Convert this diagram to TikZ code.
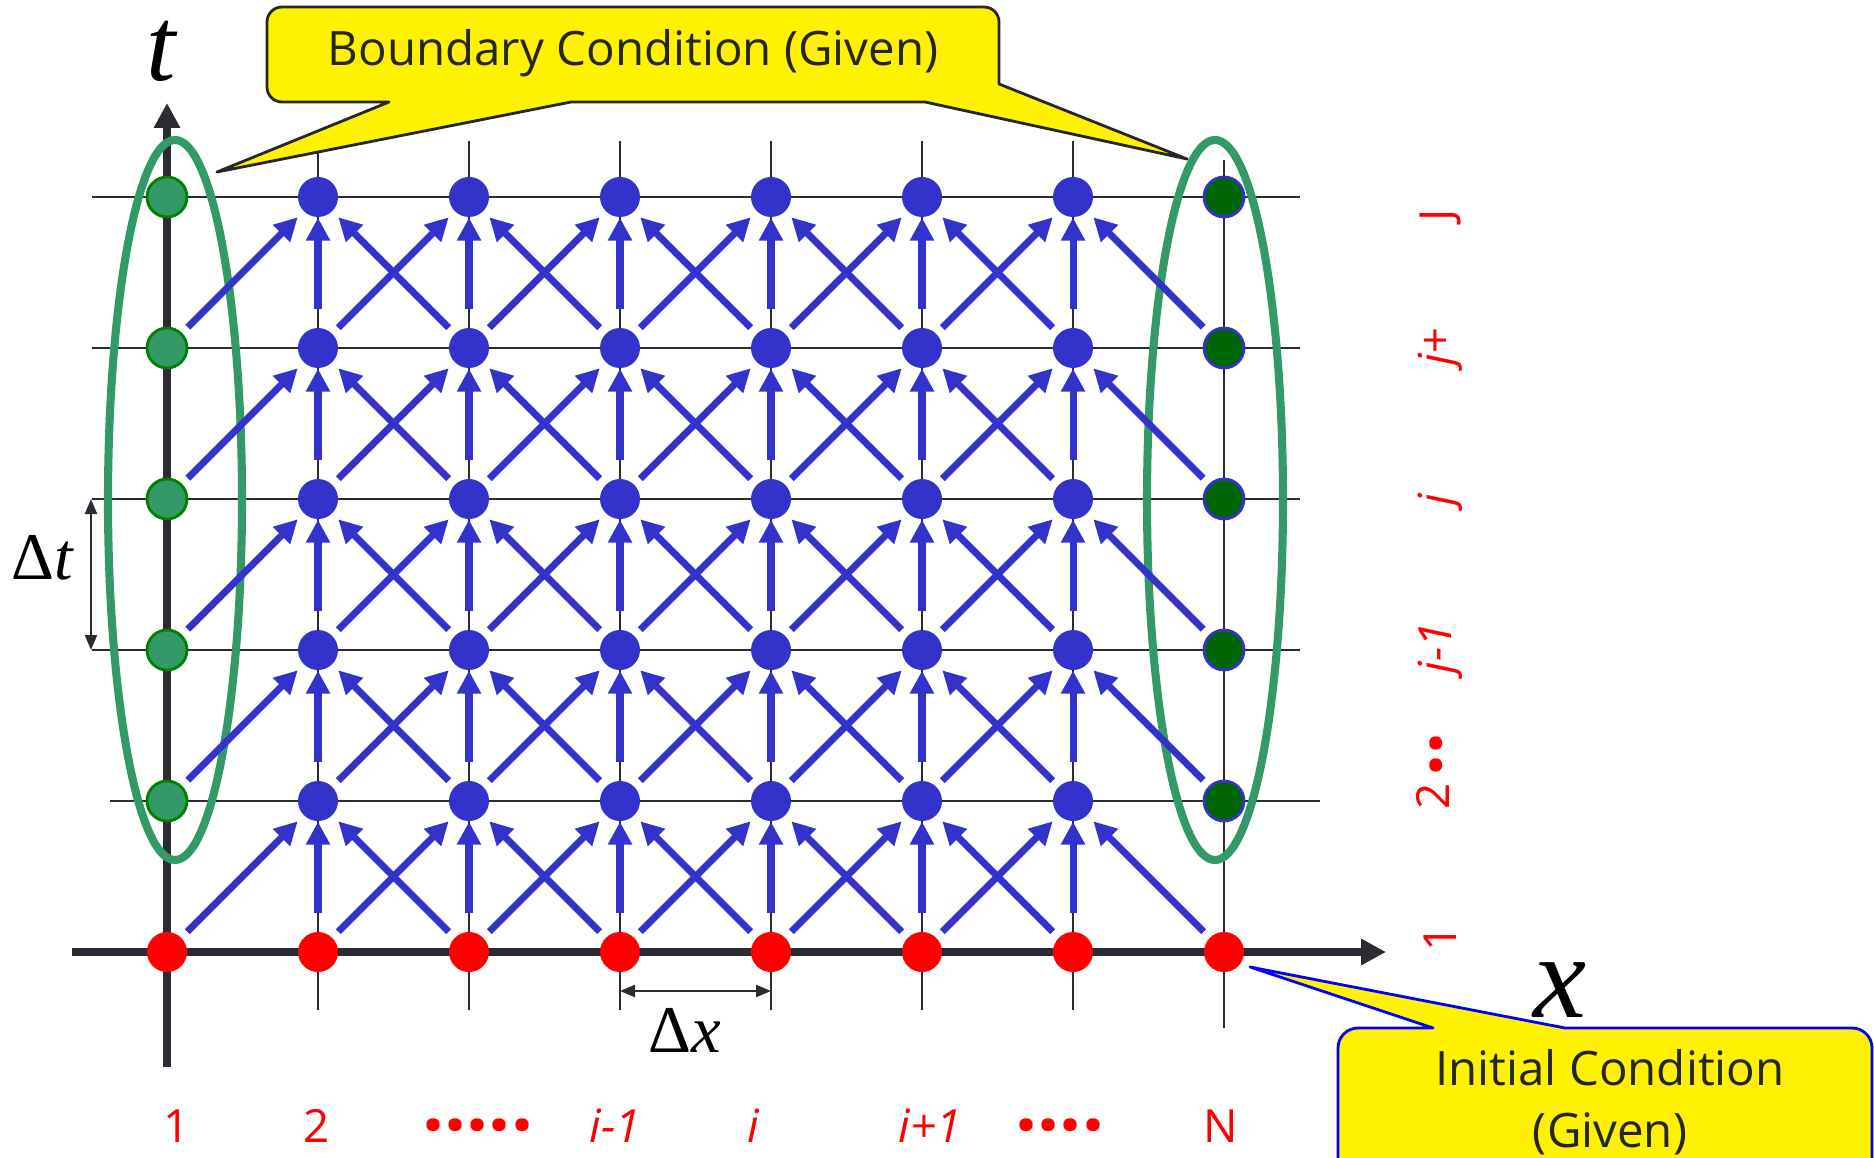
\documentclass[tikz,border=0pt]{standalone}
\usepackage{fontspec}
\setmainfont{Open Sans}
\newfontfamily\tnr{Liberation Serif}
\usetikzlibrary{arrows.meta, calc}
\definecolor{nodeblue}{HTML}{3333CC}
\definecolor{bgreen}{HTML}{339966}
\definecolor{dgreen}{HTML}{006600}
\definecolor{axisgray}{HTML}{2B2B33}
\newcommand{\bigdots}[1]{\raisebox{-4pt}{\fontsize{22}{22}\selectfont\bfseries #1}}

\begin{document}
\begin{tikzpicture}[
  font=\fontsize{13}{17}\selectfont,
  grd/.style={draw=axisgray, line width=0.6pt},
  ax/.style={draw=axisgray, line width=2.3pt, -{Triangle[length=0.25cm, width=0.25cm]}},
  dim/.style={draw=axisgray, line width=0.6pt,
              {Triangle[length=0.15cm, width=0.12cm]}-{Triangle[length=0.15cm, width=0.12cm]}},
  pt/.style={circle, inner sep=0pt, minimum size=0.4cm},
  bdot/.style={pt, fill=nodeblue},
  rdot/.style={pt, fill=red},
  lgdot/.style={pt, fill=bgreen, draw=green!50!black, line width=0.8pt},
  rgdot/.style={pt, fill=dgreen, draw=nodeblue, line width=0.8pt},
  bnd/.style={draw=bgreen, line width=2.3pt},
  upd/.style={nodeblue, line width=2pt, -{Triangle[length=0.23cm, width=0.23cm]}},
  bub/.style={fill=yellow, line width=0.8pt, line join=round},
  btxt/.style={text=black!85, font=\fontsize{13.5}{17.5}\selectfont},
  lab/.style={text=red, inner sep=0pt},
  big/.style={inner sep=0pt, font=\tnr\itshape\fontsize{#1}{#1}\selectfont}
]
\path[use as bounding box] (0,0) rectangle (18.74,11.57);
\clip (0,0) rectangle (18.74,11.57);

% grid
\foreach \c in {2,...,7}
  \draw[grd] ({0.16+1.51*\c},1.47) -- ({0.16+1.51*\c},10.16);
\draw[grd] (12.24,1.29) -- (12.24,9.97);
\foreach \r in {3,...,6}
  \draw[grd] (0.92,{0.54+1.51*\r}) -- (13.00,{0.54+1.51*\r});
\draw[grd] (1.10,3.56) -- (13.20,3.56);

% axes
\draw[ax] (1.67,0.90) -- (1.67,10.54);
\draw[ax] (0.72,2.05) -- (13.86,2.05);

% mesh points
\foreach \c in {1,...,8}
  \node[rdot] (n-\c-1) at ({0.16+1.51*\c},2.05) {};
\foreach \r in {2,...,6} {
  \node[lgdot] (n-1-\r) at (1.67,{0.54+1.51*\r}) {};
  \node[rgdot] (n-8-\r) at (12.24,{0.54+1.51*\r}) {};
  \foreach \c in {2,...,7}
    \node[bdot] (n-\c-\r) at ({0.16+1.51*\c},{0.54+1.51*\r}) {};
}

% boundary columns
\draw[bnd] (1.75,6.57) ellipse[x radius=0.67, y radius=3.60];
\draw[bnd] (12.15,6.57) ellipse[x radius=0.68, y radius=3.60];

% explicit stencil
\foreach \r [evaluate=\r as \s using int(\r+1)] in {1,...,5} {
  \foreach \c [evaluate=\c as \cl using int(\c-1), evaluate=\c as \cr using int(\c+1)] in {2,...,7} {
    \draw[upd, shorten <=0.18cm] (n-\c-\r) -- (n-\c-\s);
    \draw[upd, shorten <=0.08cm, shorten >=0.08cm] (n-\cl-\r) -- (n-\c-\s);
    \draw[upd, shorten <=0.08cm, shorten >=0.08cm] (n-\cr-\r) -- (n-\c-\s);
  }
}

% step sizes
\draw[dim] ($(n-1-3)+(-0.76,0)$) -- ($(n-1-4)+(-0.76,0)$);
\draw[dim] ($(n-4-1)+(0,-0.39)$) -- ($(n-5-1)+(0,-0.39)$);
\node[big=19] (dtlab) at (0.42,5.99) {\upshape Δ\itshape t};
\node[big=19] (dxlab) at (6.85,1.27) {\upshape Δ\itshape x};
\node[big=30] (tlab) at (1.61,11.06) {t};
\node[big=34] (xlab) at (15.60,1.67) {x};

% indices
\node[lab, rotate=90] (r1) at (14.40,2.19) {1};
\node[lab, rotate=90] (r2) at (14.40,3.86) {2\,\bigdots{··}};
\node[lab, rotate=90] (r3) at (14.40,5.09) {\itshape j-1};
\node[lab, rotate=90] (r4) at (14.40,6.57) {\itshape j};
\node[lab, rotate=90] (r5) at (14.40,8.10) {\itshape j+};
\node[lab, rotate=90] (r6) at (14.40,9.42) {J};
\node[lab] (c1) at (1.77,0.31) {1};
\node[lab] (c2) at (3.17,0.31) {2};
\node[lab, font=\fontsize{22}{22}\selectfont\bfseries] (c3) at (4.78,0.21) {·····};
\node[lab] (c4) at (6.15,0.31) {\itshape i-1};
\node[lab] (c5) at (7.53,0.31) {\itshape i};
\node[lab] (c6) at (9.30,0.31) {\itshape i+1};
\node[lab, font=\fontsize{22}{22}\selectfont\bfseries] (c7) at (10.60,0.21) {····};
\node[lab] (c8) at (12.21,0.31) {N};

% callouts
\coordinate (btl) at (2.17,9.85);
\coordinate (btr) at (11.87,9.98);
\path[bub, draw=black!85]
  (3.89,10.55) -- (btl) -- (5.71,10.55) -- (9.25,10.55) -- (btr) -- (9.99,10.73)
  -- (9.99,11.35) arc[start angle=0, end angle=90, radius=0.15]
  -- (2.82,11.50) arc[start angle=90, end angle=180, radius=0.15]
  -- (2.67,10.70) arc[start angle=180, end angle=270, radius=0.15]
  -- cycle;
\node[btxt] (bc) at (6.33,11.04) {Boundary Condition (Given)};

\coordinate (itip) at (12.50,1.90);
\path[bub, draw=blue]
  (14.33,1.29) -- (itip) -- (15.65,1.29)
  -- (18.52,1.29) arc[start angle=90, end angle=0, radius=0.2]
  -- (18.72,-0.5) -- (13.38,-0.5)
  -- (13.38,1.09) arc[start angle=180, end angle=90, radius=0.2]
  -- cycle;
\node[btxt, align=center] (ic) at (16.10,0.55) {Initial Condition\\(Given)};
\end{tikzpicture}
\end{document}
